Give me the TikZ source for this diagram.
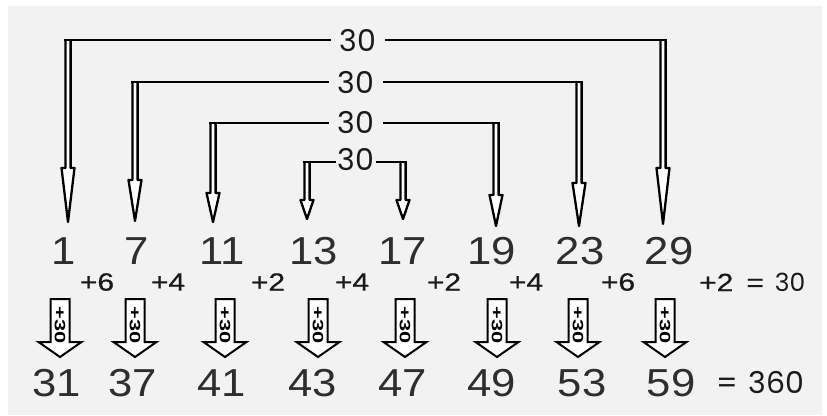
\documentclass[tikz,border=0pt]{standalone}
\usepackage{graphicx}
\usepackage{fontspec}
\setmainfont{Liberation Sans}
\newfontfamily\numfont[FakeStretch=1.12]{Liberation Sans}
\newfontfamily\smallfont[FakeStretch=1.2,FakeBold=0.6]{Liberation Sans}
\newfontfamily\geofont{Poppins}
\usetikzlibrary{calc}
\definecolor{bggray}{HTML}{F2F2F2}
\definecolor{numgray}{HTML}{2E2E2E}
\definecolor{inkdark}{HTML}{1A1A1A}
\newcommand\BigArr[3]{%
  \filldraw[bigarr] let \p1=(#1), \p2=(#2) in
    (\x1-2.6pt,\y1) -- (\x1-2.6pt,\y2+#3) -- (\x1-6.5pt,\y2+#3) -- (\x2,\y2)
    -- (\x1+6.5pt,\y2+#3) -- (\x1+2.6pt,\y2+#3) -- (\x1+2.6pt,\y1);}
\newcommand\SmallArr[2]{%
  \filldraw[blkarr] (#2-9.5,299) -- (#2-9.5,342) -- (#2-21.5,342) -- (#2,357)
    -- (#2+21.5,342) -- (#2+9.5,342) -- (#2+9.5,299) -- cycle;
  \node[blktxt] (#1) at (#2,325) {\scalebox{1.45}[1]{+30}};}
\begin{document}
\begin{tikzpicture}[x=1pt,y=-1pt,
  num/.style={font=\numfont\fontsize{39}{39}\selectfont, text=numgray, inner sep=0pt},
  inc/.style={font=\smallfont\fontsize{25}{25}\selectfont, text=inkdark, inner sep=0pt},
  lab/.style={font=\geofont\fontsize{30}{30}\selectfont, text=inkdark, inner ysep=0pt, inner xsep=9pt},
  hl/.style={line width=2.2pt, black},
  bigarr/.style={line width=2.3pt, black, fill=white, line join=round},
  blkarr/.style={line width=2pt, black, fill=white, line join=miter},
  blktxt/.style={font=\bfseries\fontsize{15}{15}\selectfont, text=black, inner sep=0pt, rotate=-90}]
\useasboundingbox (0,0) rectangle (827,415);
\fill[white] (0,0) rectangle (827,415);
\fill[bggray] (8,6) rectangle (822,415);

% top row
\node[num] (n1)  at (64,251) {1};
\node[num] (n7)  at (137,251) {7};
\node[num] (n11) at (222,251) {11};
\node[num] (n13) at (314,251) {13};
\node[num] (n17) at (403,251) {17};
\node[num] (n19) at (492,251) {19};
\node[num] (n23) at (580,251) {23};
\node[num] (n29) at (669,251) {29};

% bottom row
\node[num] (m31) at (57,383) {31};
\node[num] (m37) at (133,383) {37};
\node[num] (m41) at (222,383) {41};
\node[num] (m43) at (313,383) {43};
\node[num] (m47) at (403,383) {47};
\node[num] (m49) at (492,383) {49};
\node[num] (m53) at (582,383) {53};
\node[num] (m59) at (671,383) {59};
\node[font=\geofont\fontsize{30}{30}\selectfont, text=inkdark, inner sep=0pt, anchor=west] (s360) at (716,382) {=\hspace{11pt}360};

% differences
\node[inc] (d1) at (97,282) {+6};
\node[inc] (d2) at (168,282) {+4};
\node[inc] (d3) at (268,282) {+2};
\node[inc] (d4) at (352,282) {+4};
\node[inc] (d5) at (444,282) {+2};
\node[inc] (d6) at (526,282) {+4};
\node[inc] (d7) at (618,282) {+6};
\node[inc, anchor=west] (d8) at (699,282) {+2\hspace{13pt}=\hspace{11pt}{\geofont 30}};

% +30 block arrows
\SmallArr{a1}{60}
\SmallArr{a2}{135}
\SmallArr{a3}{225}
\SmallArr{a4}{318}
\SmallArr{a5}{405}
\SmallArr{a6}{497}
\SmallArr{a7}{578}
\SmallArr{a8}{665}

% labels of the brackets
\node[lab] (L1) at (358,41) {30};
\node[lab] (L2) at (356,83) {30};
\node[lab] (L3) at (356,123) {30};
\node[lab, inner xsep=2pt] (L4) at (356,160) {30};

% corners and tips
\coordinate (k1) at (68,40);   \coordinate (t1) at (68,222);
\coordinate (k7) at (135,82);  \coordinate (t7) at (135,221);
\coordinate (k11) at (213,123); \coordinate (t11) at (213,222);
\coordinate (k13) at (307,162); \coordinate (t13) at (307,219);
\coordinate (k17) at (403,162); \coordinate (t17) at (403,219);
\coordinate (k19) at (496,123); \coordinate (t19) at (496,226);
\coordinate (k23) at (579,82);  \coordinate (t23) at (579,226);
\coordinate (k29) at (663,40);  \coordinate (t29) at (663,224);

\BigArr{k1}{t1}{54pt}
\BigArr{k7}{t7}{41pt}
\BigArr{k11}{t11}{29pt}
\BigArr{k13}{t13}{19pt}
\BigArr{k17}{t17}{19pt}
\BigArr{k19}{t19}{31pt}
\BigArr{k23}{t23}{43pt}
\BigArr{k29}{t29}{56pt}

\draw[hl] (L1.west |- k1) -- ([xshift=-3.7pt]k1);
\draw[hl] (L1.east |- k29) -- ([xshift=3.7pt]k29);
\draw[hl] (L2.west |- k7) -- ([xshift=-3.7pt]k7);
\draw[hl] (L2.east |- k23) -- ([xshift=3.7pt]k23);
\draw[hl] (L3.west |- k11) -- ([xshift=-3.7pt]k11);
\draw[hl] (L3.east |- k19) -- ([xshift=3.7pt]k19);
\draw[hl] (L4.west |- k13) -- ([xshift=-3.7pt]k13);
\draw[hl] (L4.east |- k17) -- ([xshift=3.7pt]k17);
\end{tikzpicture}
\end{document}
